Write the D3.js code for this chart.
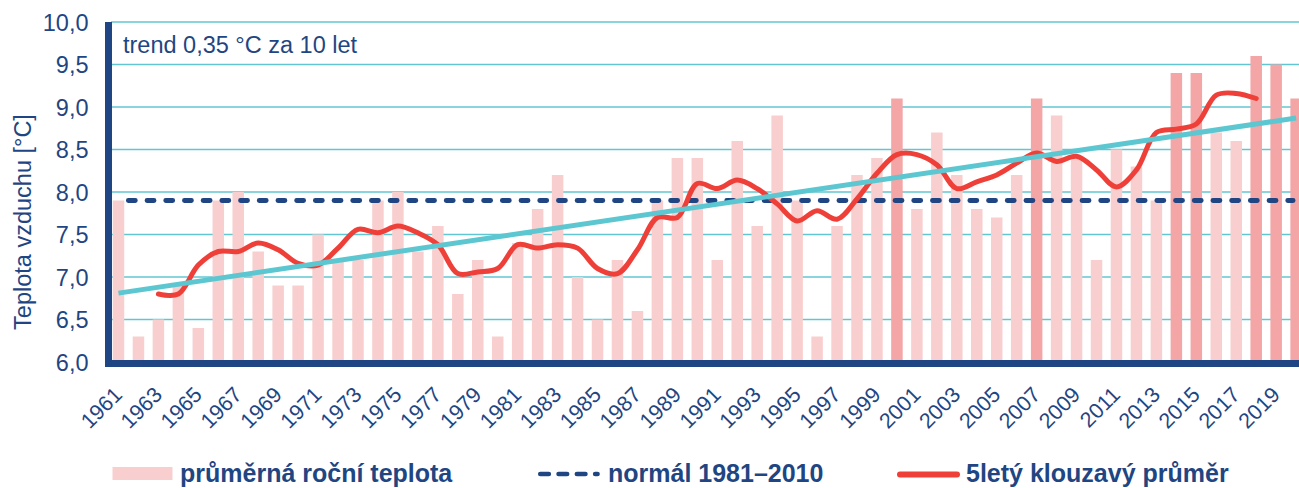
<!DOCTYPE html>
<html>
<head>
<meta charset="utf-8">
<script src="https://cdn.jsdelivr.net/npm/d3@7"></script>
<style>
  body { margin: 0; background: #fff; }
  svg { display: block; font-family: "Liberation Sans", Arial, sans-serif; }
</style>
</head>
<body>
<div id="chart"></div>
<script>
// Data
var years = d3.range(1961, 2021);

var temps = [
  7.9, 6.3, 6.5, 6.9, 6.4, 7.9, 8.0, 7.3, 6.9, 6.9,
  7.5, 7.2, 7.2, 7.9, 8.0, 7.3, 7.6, 6.8, 7.2, 6.3,
  7.4, 7.8, 8.2, 7.0, 6.5, 7.2, 6.6, 7.9, 8.4, 8.4,
  7.2, 8.6, 7.6, 8.9, 7.9, 6.3, 7.6, 8.2, 8.4, 9.1,
  7.8, 8.7, 8.2, 7.8, 7.7, 8.2, 9.1, 8.9, 8.4, 7.2,
  8.5, 8.3, 7.9, 9.4, 9.4, 8.7, 8.6, 9.6, 9.5, 9.1
];

// 5 year moving average, 1963 - 2018
var avgYears = d3.range(1963, 2019);
var avgValues = [
  6.80, 6.80, 7.14, 7.30, 7.30, 7.40, 7.32, 7.16, 7.14, 7.34,
  7.56, 7.52, 7.60, 7.52, 7.38, 7.04, 7.06, 7.10, 7.38, 7.34,
  7.38, 7.34, 7.10, 7.04, 7.32, 7.70, 7.70, 8.10, 8.04, 8.14,
  8.04, 7.86, 7.66, 7.78, 7.68, 7.92, 8.22, 8.44, 8.44, 8.32,
  8.04, 8.12, 8.20, 8.34, 8.46, 8.36, 8.42, 8.26, 8.06, 8.26,
  8.70, 8.74, 8.80, 9.14, 9.16, 9.10
];

var trendYears = [1961, 2020];
var trendValues = [6.81, 8.87];

var normalYears = [1961, 2020];
var normalValue = 7.9;

var yTicks = [6.0, 6.5, 7.0, 7.5, 8.0, 8.5, 9.0, 9.5, 10.0];
var labelYears = years.filter(function(d) { return d % 2 === 1; });

var legendLabels = ['průměrná roční teplota', 'normál 1981–2010', '5letý klouzavý průměr'];

// Styles
var navy = '#1f4682';
var barLight = '#f8cfce';
var barDark = '#f4a5a5';
var red = '#ee4039';
var teal = '#5cc7d1';
var grid = '#62c6d2';

var width = 1299, height = 488;

var svg = d3.select('#chart').append('svg')
  .attr('width', width)
  .attr('height', height);

var x = d3.scaleBand()
  .domain(years)
  .range([108.5, 108.5 + 60 * 19.96])
  .paddingInner(0.424)
  .paddingOuter(0.212);

var y = d3.scaleLinear()
  .domain([6, 10])
  .range([362, 22]);

function cx(d) { return x(d) + x.bandwidth() / 2; }

// grid lines
svg.append('g')
  .selectAll('line')
  .data(yTicks.slice(1))
  .enter().append('line')
    .attr('x1', 111)
    .attr('x2', width)
    .attr('y1', function(d) { return y(d); })
    .attr('y2', function(d) { return y(d); })
    .attr('stroke', grid)
    .attr('stroke-width', 1.5);

// bars
svg.append('g')
  .selectAll('rect')
  .data(years)
  .enter().append('rect')
    .attr('x', function(d) { return x(d); })
    .attr('width', x.bandwidth())
    .attr('y', function(d, i) { return y(temps[i]); })
    .attr('height', function(d, i) { return y(6) - y(temps[i]); })
    .attr('fill', function(d, i) { return temps[i] >= 9 ? barDark : barLight; });

// normal line
svg.append('line')
  .attr('x1', cx(normalYears[0]))
  .attr('x2', cx(normalYears[1]) - 3)
  .attr('y1', y(normalValue))
  .attr('y2', y(normalValue))
  .attr('stroke', navy)
  .attr('stroke-width', 4.8)
  .attr('stroke-linecap', 'round')
  .attr('stroke-dasharray', '7 11.7')
  .attr('stroke-dashoffset', 8.85);

// moving average
var avgLine = d3.line()
  .x(function(d) { return cx(d); })
  .y(function(d, i) { return y(avgValues[i]); })
  .curve(d3.curveCatmullRom.alpha(0.5));

svg.append('path')
  .datum(avgYears)
  .attr('d', avgLine)
  .attr('fill', 'none')
  .attr('stroke', red)
  .attr('stroke-width', 5)
  .attr('stroke-linecap', 'round');

// trend
svg.append('line')
  .attr('x1', cx(trendYears[0]))
  .attr('x2', cx(trendYears[1]))
  .attr('y1', y(trendValues[0]))
  .attr('y2', y(trendValues[1]))
  .attr('stroke', teal)
  .attr('stroke-width', 5);

// axis lines
svg.append('line')
  .attr('x1', 108.5).attr('x2', 108.5)
  .attr('y1', 22).attr('y2', 367)
  .attr('stroke', navy)
  .attr('stroke-width', 7);

svg.append('line')
  .attr('x1', 105).attr('x2', width)
  .attr('y1', 363.5).attr('y2', 363.5)
  .attr('stroke', navy)
  .attr('stroke-width', 7);

// y axis labels
var yAxis = svg.append('g')
  .attr('transform', 'translate(108.5,0)')
  .call(d3.axisLeft(y)
    .tickValues(yTicks)
    .tickSize(0)
    .tickPadding(20)
    .tickFormat(function(d) { return d.toFixed(1).replace('.', ','); }));

yAxis.select('.domain').remove();
yAxis.selectAll('text')
  .attr('fill', navy)
  .attr('font-size', 23.5)
  .attr('font-family', '"Liberation Sans", Arial, sans-serif')
  .attr('dy', '0.35em');

// x axis labels
var xAxis = svg.append('g')
  .attr('transform', 'translate(0,363)')
  .call(d3.axisBottom(x).tickValues(labelYears).tickSize(0));

xAxis.select('.domain').remove();
xAxis.selectAll('text')
  .attr('fill', navy)
  .attr('font-size', 21.5)
  .attr('font-family', '"Liberation Sans", Arial, sans-serif')
  .attr('x', 0)
  .attr('y', 0)
  .attr('dy', 0)
  .attr('text-anchor', 'end')
  .attr('transform', 'translate(5,33) rotate(-45)');

// axis title
svg.append('text')
  .attr('transform', 'translate(31,222) rotate(-90)')
  .attr('text-anchor', 'middle')
  .attr('fill', navy)
  .attr('font-size', 23.5)
  .text('Teplota vzduchu [°C]');

// trend note
svg.append('text')
  .attr('x', 123)
  .attr('y', 53)
  .attr('fill', navy)
  .attr('font-size', 23.5)
  .text('trend 0,35 °C za 10 let');

// legend
var legend = svg.append('g')
  .attr('font-size', 25)
  .attr('font-weight', 'bold')
  .attr('fill', navy);

legend.append('rect')
  .attr('x', 112.5).attr('y', 467)
  .attr('width', 60).attr('height', 13)
  .attr('fill', barLight);

legend.append('text')
  .attr('x', 180).attr('y', 482)
  .text(legendLabels[0]);

legend.append('line')
  .attr('x1', 540.3).attr('x2', 597.5)
  .attr('y1', 474).attr('y2', 474)
  .attr('stroke', navy)
  .attr('stroke-width', 4.7)
  .attr('stroke-linecap', 'round')
  .attr('stroke-dasharray', '8.5 9.8');

legend.append('text')
  .attr('x', 608).attr('y', 482)
  .text(legendLabels[1]);

legend.append('line')
  .attr('x1', 900).attr('x2', 957)
  .attr('y1', 474.5).attr('y2', 474.5)
  .attr('stroke', red)
  .attr('stroke-width', 6)
  .attr('stroke-linecap', 'round');

legend.append('text')
  .attr('x', 966).attr('y', 482)
  .text(legendLabels[2]);
</script>
</body>
</html>
